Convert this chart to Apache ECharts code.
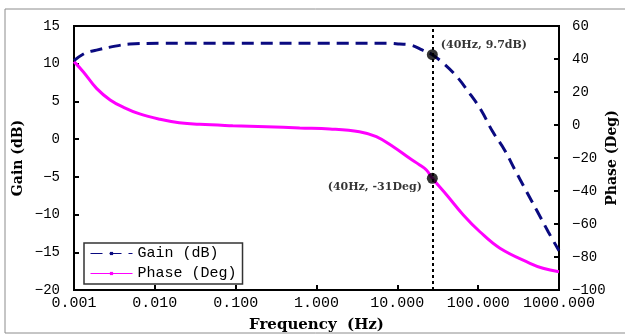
<!DOCTYPE html>
<html>
<head>
<meta charset="utf-8">
<script src="https://cdn.jsdelivr.net/npm/echarts@6/dist/echarts.min.js"></script>
<style>
  html, body { margin: 0; padding: 0; background: #fff; }
  #main { width: 625px; height: 336px; }
</style>
</head>
<body>
<div id="main"></div>
<script>
// Gain curve (left axis, dB)
var gainFreq = [0.001, 0.00137, 0.0019, 0.0028, 0.0049, 0.0116, 0.1, 1, 8, 10.7, 14.2, 20.6, 27.1, 37.1, 54.3, 75.5, 108, 151, 211, 286, 399, 540, 738, 1000];
var gainDb   = [10.4, 11.4, 11.8, 12.2, 12.6, 12.7, 12.7, 12.7, 12.7, 12.6, 12.5, 11.8, 11.2, 10.05, 8.3, 6.3, 3.9, 1.0, -1.4, -4.1, -7.0, -9.6, -12.3, -14.8];

// Phase curve (right axis, Deg)
var phaseFreq = [0.001, 0.0013, 0.0019, 0.0028, 0.0041, 0.0065, 0.0116, 0.02, 0.036, 0.092, 0.24, 0.62, 1.46, 3.4, 5.5, 8.9, 14.2, 18.9, 22.9, 27.1, 40.8, 65.5, 105, 186, 437, 634, 1000];
var phaseDeg  = [38.4, 32.3, 22.2, 15.2, 10.7, 6.7, 3.5, 1.4, 0.4, -0.4, -1.0, -1.8, -2.4, -4.1, -7.1, -13.2, -20.2, -24.2, -27.3, -32.3, -42.4, -54.5, -64.7, -74.7, -83.8, -86.8, -88.9];

// marked point (where the dotted line sits in the picture)
var markerFreq  = 27.1;
var markerGain  = 11.2;
var markerPhase = -32.3;
var gainLabel  = '(40Hz, 9.7dB)';
var phaseLabel = '(40Hz, -31Deg)';

var seriesNames = ['Gain (dB)', 'Phase (Deg)'];

function pairs(xs, ys) {
  var out = [];
  for (var i = 0; i < xs.length; i++) out.push([xs[i], ys[i]]);
  return out;
}
function minus(v) {
  return String(v).replace('-', '\u2212');
}

var monoFont = '"Liberation Mono", monospace';
var serifFont = '"DejaVu Serif", serif';

var myChart = echarts.init(document.getElementById('main'));
myChart.setOption({
  animation: false,
  backgroundColor: '#fff',
  graphic: [{
    type: 'rect',
    shape: { x: 5, y: 9, width: 640, height: 324 },
    style: { fill: 'none', stroke: '#8c8c8c', lineWidth: 1 },
    silent: true
  }],
  grid: {
    left: 74, right: 66, top: 26, bottom: 46,
    outerBoundsMode: 'none',
    containLabel: false,
    show: true, borderColor: '#000', borderWidth: 2, backgroundColor: '#fff'
  },
  legend: {
    data: seriesNames,
    orient: 'vertical',
    left: 84, top: 243,
    padding: [3, 6, 3, 6],
    itemGap: 5,
    itemWidth: 42, itemHeight: 4,
    backgroundColor: '#fff',
    borderColor: '#333', borderWidth: 1.5, borderRadius: 0,
    lineStyle: { width: 1 },
    textStyle: { fontFamily: monoFont, fontSize: 15, color: '#000' }
  },
  xAxis: {
    type: 'log', logBase: 10, min: 0.001, max: 1000,
    name: 'Frequency  (Hz)', nameLocation: 'middle', nameGap: 28,
    nameMoveOverlap: false,
    nameTextStyle: { fontFamily: serifFont, fontWeight: 'bold', fontSize: 15, color: '#000' },
    axisLine: { onZero: false, lineStyle: { color: '#000', width: 2 } },
    axisTick: { inside: true, length: 5, lineStyle: { color: '#000', width: 2 } },
    axisLabel: {
      margin: 6, fontFamily: monoFont, fontSize: 15, color: '#000',
      formatter: function (v) { return Number(v).toFixed(3); }
    },
    splitLine: { show: false },
    minorTick: { show: false }
  },
  yAxis: [{
    type: 'value', min: -20, max: 15, interval: 5,
    name: 'Gain (dB)', nameLocation: 'middle', nameRotate: 90, nameGap: 49,
    nameMoveOverlap: false,
    nameTextStyle: { fontFamily: serifFont, fontWeight: 'bold', fontSize: 14, color: '#000' },
    axisLine: { show: true, onZero: false, lineStyle: { color: '#000', width: 2 } },
    axisTick: { show: true, inside: true, length: 5, lineStyle: { color: '#000', width: 2 } },
    axisLabel: { margin: 14, fontFamily: monoFont, fontSize: 14, color: '#000', formatter: minus },
    splitLine: { show: false }
  }, {
    type: 'value', min: -100, max: 60, interval: 20, position: 'right',
    name: 'Phase (Deg)', nameLocation: 'middle', nameRotate: 90, nameGap: 46,
    nameMoveOverlap: false,
    nameTextStyle: { fontFamily: serifFont, fontWeight: 'bold', fontSize: 14, color: '#000' },
    axisLine: { show: true, onZero: false, lineStyle: { color: '#000', width: 2 } },
    axisTick: { show: true, inside: true, length: 5, lineStyle: { color: '#000', width: 2 } },
    axisLabel: { margin: 13, fontFamily: monoFont, fontSize: 14, color: '#000', formatter: minus },
    splitLine: { show: false }
  }],
  series: [
    {
      name: seriesNames[0], type: 'line', yAxisIndex: 0,
      data: pairs(gainFreq, gainDb),
      smooth: 0.4,
      symbol: 'rect', symbolSize: 4, showSymbol: false,
      itemStyle: { color: '#0a0a80' },
      lineStyle: { color: '#0a0a80', width: 3, type: [12, 7] },
      z: 3
    },
    {
      name: seriesNames[1], type: 'line', yAxisIndex: 1,
      data: pairs(phaseFreq, phaseDeg),
      smooth: 0.4,
      symbol: 'rect', symbolSize: 2, showSymbol: false,
      itemStyle: { color: '#ff00ff' },
      lineStyle: { color: '#ff00ff', width: 3 },
      z: 2
    },
    {
      name: 'gainMark', type: 'scatter', yAxisIndex: 0,
      data: [[markerFreq, markerGain]],
      symbolSize: 11, itemStyle: { color: '#000' },
      label: {
        show: true, position: 'right', distance: 3, offset: [0, -10],
        formatter: gainLabel,
        fontFamily: serifFont, fontWeight: 'bold', fontSize: 11, color: '#000'
      },
      markLine: {
        silent: true, symbol: ['none', 'none'],
        label: { show: false },
        lineStyle: { color: '#000', width: 2, type: [3, 3] },
        data: [{ xAxis: markerFreq }]
      },
      z: 5
    },
    {
      name: 'phaseMark', type: 'scatter', yAxisIndex: 1,
      data: [[markerFreq, markerPhase]],
      symbolSize: 11, itemStyle: { color: '#000' },
      label: {
        show: true, position: 'left', distance: 5, offset: [0, 9],
        formatter: phaseLabel,
        fontFamily: serifFont, fontWeight: 'bold', fontSize: 11, color: '#000'
      },
      z: 5
    }
  ]
});
</script>
</body>
</html>
